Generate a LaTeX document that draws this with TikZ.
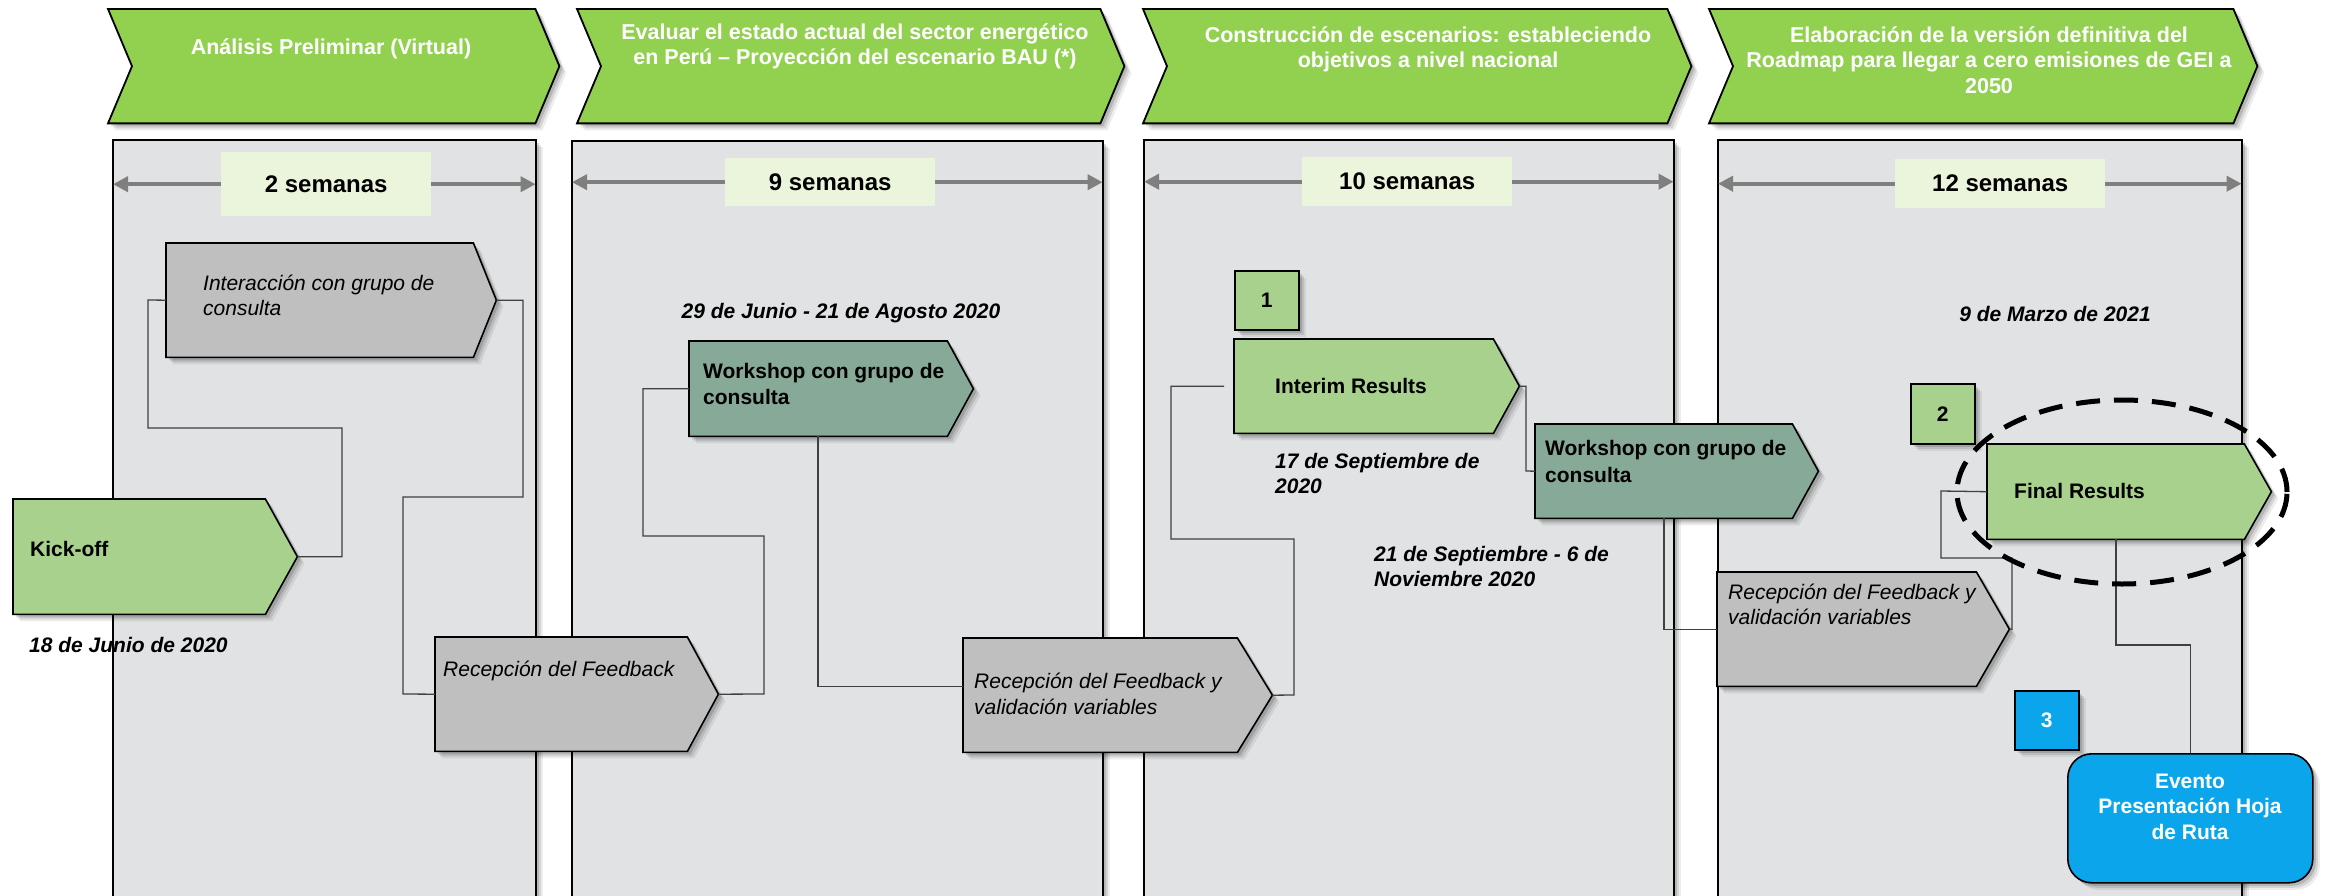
\documentclass[tikz,border=0pt]{standalone}
\usepackage{fontspec}
\setmainfont{Liberation Sans}
\usetikzlibrary{shadows,arrows.meta}
\definecolor{hdrgreen}{HTML}{92D050}
\definecolor{itgreen}{HTML}{A9D18E}
\definecolor{wsgreen}{HTML}{87A997}
\definecolor{itgrey}{HTML}{BFBFBF}
\definecolor{panelgrey}{HTML}{E1E2E4}
\definecolor{lblgreen}{HTML}{EBF5DB}
\definecolor{evblue}{HTML}{0AA5EA}
\definecolor{arrgrey}{HTML}{7F7F7F}
\tikzset{
  shd/.style={
    drop shadow={shadow xshift=7pt,shadow yshift=-7pt,opacity=0.07,fill=black},
    drop shadow={shadow xshift=5pt,shadow yshift=-5pt,opacity=0.1,fill=black},
    drop shadow={shadow xshift=3pt,shadow yshift=-3pt,opacity=0.14,fill=black}},
  box/.style={inner sep=0,anchor=north west},
  panel/.style={box,fill=panelgrey,draw=black,line width=1.6pt,shd},
  hdr/.style={fill=hdrgreen,draw=black,line width=1.8pt,shd},
  shp/.style={draw=black,line width=1.6pt,shd},
  conn/.style={draw=black!75,line width=1.3pt},
  dur/.style={draw=arrgrey,line width=4pt,-{Triangle[length=15pt,width=15pt]}},
  lbl/.style={box,fill=lblgreen,font=\fontsize{24}{28}\selectfont\bfseries},
  htxt/.style={text=white,font=\fontsize{21.5}{25.5}\selectfont\bfseries,inner sep=0,anchor=base},
  btxt/.style={font=\fontsize{21}{25}\selectfont\bfseries,inner sep=0,anchor=base west},
  wtxt/.style={text=white,font=\fontsize{21}{25}\selectfont\bfseries,inner sep=0,anchor=base},
  itxt/.style={font=\fontsize{21}{25}\selectfont\itshape,inner sep=0,anchor=base west},
  dtxt/.style={font=\fontsize{21}{25}\selectfont\bfseries\itshape,inner sep=0,anchor=base west},
  numbox/.style={box,shp,font=\fontsize{21}{25}\selectfont\bfseries},
}
% pentagon-arrow item: name, style, x left, y top, total width, height, tip depth
\newcommand\pentbox[7]{%
  \node[box,minimum width=#5pt,minimum height=#6pt] (#1) at (#3,#4) {};
  \filldraw[shp,#2] (#1.north west) -- ([xshift=-#7pt]#1.north east) -- (#1.east)
    -- ([xshift=-#7pt]#1.south east) -- (#1.south west) -- cycle;
}
% header chevron: name, x left, total width
\newcommand\chevbox[3]{%
  \node[box,minimum width=#3pt,minimum height=114pt] (#1) at (#2,9) {};
  \filldraw[hdr] (#1.north west) -- ([xshift=-24pt]#1.north east) -- (#1.east)
    -- ([xshift=-24pt]#1.south east) -- (#1.south west) -- ([xshift=24pt]#1.west) -- cycle;
}
\begin{document}
\begin{tikzpicture}[x=1pt,y=-1pt]
\useasboundingbox (0,0) rectangle (2325,896);
\fill[white] (0,0) rectangle (2325,896);
\clip (0,0) rectangle (2325,896);

% panels
\node[panel,minimum width=423pt,minimum height=800pt] (p1) at (112,139) {};
\node[panel,minimum width=531pt,minimum height=800pt] (p2) at (571,140) {};
\node[panel,minimum width=530pt,minimum height=800pt] (p3) at (1143,139) {};
\node[panel,minimum width=524pt,minimum height=800pt] (p4) at (1717,139) {};

% headers
\chevbox{h1}{108}{451}
\chevbox{h2}{577}{547}
\chevbox{h3}{1143}{548}
\chevbox{h4}{1709}{548}
\node[htxt] (h1a) at (331,55) {Análisis Preliminar (Virtual)};
\node[htxt] (h2a) at (855,40) {Evaluar el estado actual del sector energético};
\node[htxt] (h2b) at (855,65) {en Perú – Proyección del escenario BAU (*)};
\node[htxt] (h3a) at (1428,43) {Construcción de escenarios: estableciendo};
\node[htxt] (h3b) at (1428,68) {objetivos a nivel nacional};
\node[htxt] (h4a) at (1989,43) {Elaboración de la versión definitiva del};
\node[htxt] (h4b) at (1989,68) {Roadmap para llegar a cero emisiones de GEI a};
\node[htxt] (h4c) at (1989,94) {2050};

% durations
\node[lbl,minimum width=210pt,minimum height=64pt] (l1) at (221,152) {2 semanas};
\node[lbl,minimum width=210pt,minimum height=48pt] (l2) at (725,158) {9 semanas};
\node[lbl,minimum width=210pt,minimum height=49pt] (l3) at (1302,157) {10 semanas};
\node[lbl,minimum width=210pt,minimum height=49pt] (l4) at (1895,159) {12 semanas};
\foreach \l/\p in {l1/p1,l2/p2,l3/p3,l4/p4}{
  \draw[dur,shorten >=1pt] (\l.west) -- (\p.west |- \l.west);
  \draw[dur,shorten >=1pt] (\l.east) -- (\p.east |- \l.east);
}

% item shapes
\pentbox{inter}{fill=itgrey}{166}{243}{330}{114}{23}
\pentbox{kick}{fill=itgreen}{13}{499}{284}{115}{32}
\pentbox{rec1}{fill=itgrey}{435}{637}{283}{114}{31}
\pentbox{ws1}{fill=wsgreen}{689}{341}{284}{95}{26}
\pentbox{rec2}{fill=itgrey}{963}{638}{309}{114}{35}
\pentbox{interim}{fill=itgreen}{1234}{339}{285}{94}{26}
\pentbox{ws2}{fill=wsgreen}{1535}{424}{283}{94}{26}
\pentbox{rec3}{fill=itgrey}{1717}{572}{292}{114}{33}
\pentbox{final}{fill=itgreen}{1987}{444}{284}{95}{27}

% connectors
\draw[conn] (kick.east) -| (342,428) -| (148,300) -- (inter.west);
\draw[conn] (inter.east) -| (523,497) -| (403,694) -- (rec1.west);
\draw[conn] (ws1.west) -| (643,536) -| (764,694) -- (rec1.east);
\draw[conn] ([xshift=129pt]ws1.south west) |- ([yshift=9pt]rec2.west);
\draw[conn] ([xshift=-10pt]interim.west) -| (1171,539) -| (1294,695) -- (rec2.east);
\draw[conn] (interim.east) -| (1526,471) -- (ws2.west);
\draw[conn] ([xshift=129pt]ws2.south west) |- (rec3.west);
\draw[conn] (rec3.east) -| (2012,558) -| (1941,491) -- (final.west);

% item texts
\node[itxt] (inter-a) at (203,290) {Interacción con grupo de};
\node[itxt] (inter-b) at (203,315) {consulta};
\node[btxt] (kick-a) at (30,556) {Kick-off};
\node[itxt] (rec1-a) at (443,676) {Recepción del Feedback};
\node[btxt] (ws1-a) at (703,378) {Workshop con grupo de};
\node[btxt] (ws1-b) at (703,404) {consulta};
\node[itxt] (rec2-a) at (974,688) {Recepción del Feedback y};
\node[itxt] (rec2-b) at (974,714) {validación variables};
\node[btxt] (interim-a) at (1275,393) {Interim Results};
\node[btxt] (ws2-a) at (1545,455) {Workshop con grupo de};
\node[btxt] (ws2-b) at (1545,482) {consulta};
\node[itxt] (rec3-a) at (1728,599) {Recepción del Feedback y};
\node[itxt] (rec3-b) at (1728,624) {validación variables};
\node[btxt] (final-a) at (2014,498) {Final Results};

% dates
\node[dtxt] (d1) at (29,652) {18 de Junio de 2020};
\node[dtxt,anchor=base] (d2) at (841,318) {29 de Junio - 21 de Agosto 2020};
\node[dtxt] (d3a) at (1275,468) {17 de Septiembre de};
\node[dtxt] (d3b) at (1275,493) {2020};
\node[dtxt] (d4a) at (1374,561) {21 de Septiembre - 6 de};
\node[dtxt] (d4b) at (1374,586) {Noviembre 2020};
\node[dtxt,anchor=base] (d5) at (2055,321) {9 de Marzo de 2021};

% number boxes
\node[numbox,fill=itgreen,minimum width=64pt,minimum height=59pt] (n1) at (1234,270) {1};
\node[numbox,fill=itgreen,minimum width=64pt,minimum height=60pt] (n2) at (1910,383) {2};
\node[numbox,fill=evblue,text=white,minimum width=64pt,minimum height=59pt] (n3) at (2014,690) {3};

% final event
\node[box,shp,fill=evblue,rounded corners=24pt,minimum width=245pt,minimum height=129pt] (ev) at (2067,753) {};
\draw[conn] ([xshift=129pt]final.south west) |- (2189,645) -| (ev.north);
\node[wtxt] (ev-a) at (2190,788) {Evento};
\node[wtxt] (ev-b) at (2190,813) {Presentación Hoja};
\node[wtxt] (ev-c) at (2190,839) {de Ruta};

% highlight
\draw[line width=5pt,dash pattern=on 24pt off 14pt] (2122,492) ellipse [x radius=165pt,y radius=92pt];
\end{tikzpicture}
\end{document}
